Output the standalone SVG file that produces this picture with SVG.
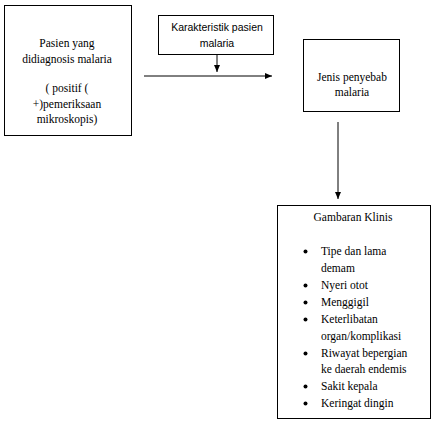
<svg xmlns="http://www.w3.org/2000/svg" width="432" height="421" viewBox="0 0 432 421">
<defs>
<marker id="ah" markerWidth="8" markerHeight="8" refX="7" refY="4" orient="auto" markerUnits="userSpaceOnUse">
<path d="M0,1 L7,4 L0,7 Z" fill="#000"/>
</marker>
<style>
.box{fill:#fff;stroke:#000;stroke-width:1}
.t{font-family:"Liberation Serif","Times New Roman",serif;font-size:11.5px;fill:#000}
.c{font-family:"Liberation Sans",Arial,sans-serif;font-size:10.5px;fill:#000}
.m{text-anchor:middle}
.ln{stroke:#000;stroke-width:1;fill:none}
.b{fill:#000}
</style>
</defs>
<rect width="432" height="421" fill="#fff"/>
<g id="connectors">
<line class="ln" x1="144" y1="76" x2="272" y2="76" marker-end="url(#ah)"/>
<line class="ln" x1="217" y1="54" x2="217" y2="72" marker-end="url(#ah)"/>
<line class="ln" x1="338" y1="122" x2="338" y2="199" marker-end="url(#ah)"/>
</g>
<g id="pasien">
<rect class="box" x="4.5" y="5.5" width="127" height="130"/>
<text class="t m" x="67" y="47">Pasien yang</text>
<text class="t m" x="67" y="63">didiagnosis malaria</text>
<text class="t m" x="67" y="92">( positif (</text>
<text class="t m" x="67" y="108">+)pemeriksaan</text>
<text class="t m" x="67" y="123">mikroskopis)</text>
</g>
<g id="karakteristik">
<rect class="box" x="158.5" y="15.5" width="115" height="39"/>
<text class="c m" x="217" y="31">Karakteristik pasien</text>
<text class="c m" x="217" y="47">malaria</text>
</g>
<g id="jenis">
<rect class="box" x="303.5" y="39.5" width="96" height="72"/>
<text class="t m" x="352" y="81">Jenis penyebab</text>
<text class="t m" x="352" y="96">malaria</text>
</g>
<g id="gambaran">
<rect class="box" x="277.5" y="205.5" width="153" height="213"/>
<text class="t m" x="353" y="221">Gambaran Klinis</text>
<g class="b">
<circle cx="305.5" cy="251.5" r="2"/>
<circle cx="305.5" cy="285.5" r="2"/>
<circle cx="305.5" cy="302.5" r="2"/>
<circle cx="305.5" cy="319.5" r="2"/>
<circle cx="305.5" cy="353.5" r="2"/>
<circle cx="305.5" cy="386.5" r="2"/>
<circle cx="305.5" cy="403.5" r="2"/>
</g>
<g class="t">
<text x="321" y="255">Tipe dan lama</text>
<text x="321" y="272">demam</text>
<text x="321" y="289">Nyeri otot</text>
<text x="321" y="306">Menggigil</text>
<text x="321" y="323">Keterlibatan</text>
<text x="321" y="340">organ/komplikasi</text>
<text x="321" y="357">Riwayat bepergian</text>
<text x="321" y="373">ke daerah endemis</text>
<text x="321" y="390">Sakit kepala</text>
<text x="321" y="407">Keringat dingin</text>
</g>
</g>
</svg>
